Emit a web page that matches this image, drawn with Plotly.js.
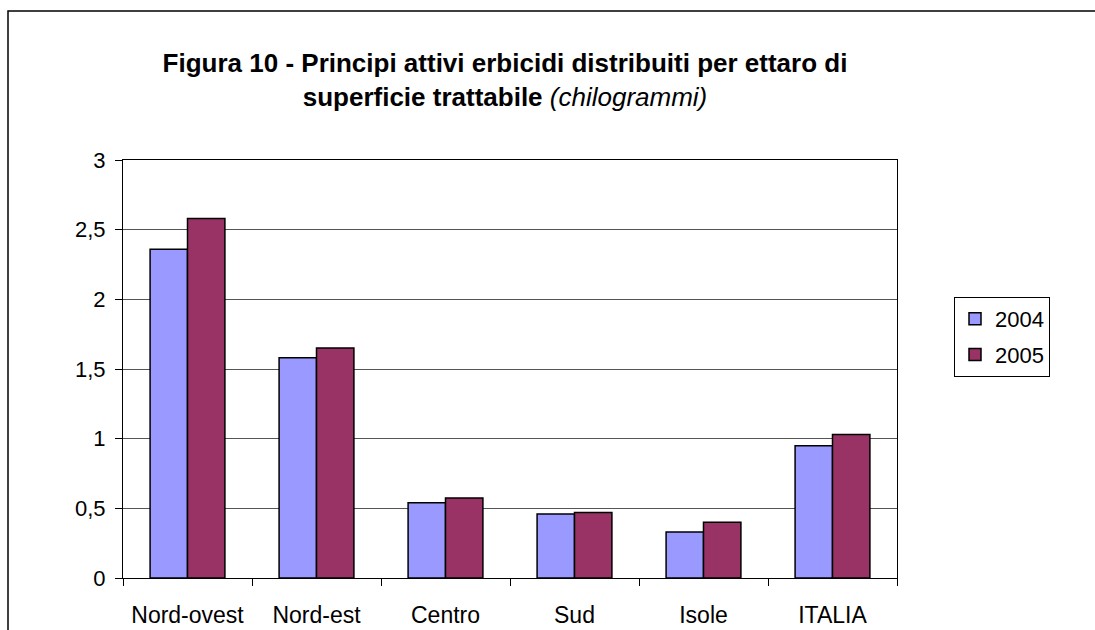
<!DOCTYPE html>
<html>
<head>
<meta charset="utf-8">
<script src="https://cdn.plot.ly/plotly-3.0.1.min.js"></script>
<style>html,body{margin:0;padding:0;background:#fff;}#chart{width:1095px;height:630px;}</style>
</head>
<body>
<div id="chart"></div>
<script>
const categories = ["Nord-ovest", "Nord-est", "Centro", "Sud", "Isole", "ITALIA"];
const values2004 = [2.36, 1.58, 0.54, 0.46, 0.33, 0.95];
const values2005 = [2.58, 1.65, 0.575, 0.47, 0.40, 1.03];
const yTicks = [0, 0.5, 1, 1.5, 2, 2.5, 3];
const yTickLabels = ["0", "0,5", "1", "1,5", "2", "2,5", "3"];

const L = 123, R = 897, T = 160, B = 578, W = 1095, H = 630;
const pw = R - L, ph = B - T;
const px = v => (v - L) / pw;
const py = v => (B - v) / ph;

const traces = [
  {type: "bar", name: "2004", x: categories, y: values2004, legendgroup: "a",
   marker: {color: "#9999FF", line: {color: "#000", width: 1.5}}},
  {type: "bar", name: "2005", x: categories, y: values2005, legendgroup: "b",
   marker: {color: "#993366", line: {color: "#000", width: 1.5}}}
];

const layout = {
  width: W, height: H,
  margin: {l: L, r: W - R, t: T, b: H - B},
  paper_bgcolor: "#fff", plot_bgcolor: "#fff",
  font: {family: "Liberation Sans, Arial, sans-serif", size: 22, color: "#000"},
  separators: ",.",
  barmode: "group", bargap: 0.42, bargroupgap: 0,
  showlegend: true,
  title: {
    text: "<b>Figura 10 - Principi attivi erbicidi distribuiti per ettaro di</b><br><b>superficie trattabile</b> <i>(chilogrammi)</i>",
    font: {family: "Liberation Sans, Arial, sans-serif", size: 26, color: "#000"},
    x: px(505), xref: "paper", xanchor: "center",
    y: 1 - 72 / H, yref: "container", yanchor: "middle"
  },
  xaxis: {
    type: "category", showline: true, linecolor: "#000", linewidth: 1, mirror: true,
    ticks: "outside", tickson: "boundaries", ticklen: 7, tickcolor: "#000",
    showgrid: false, tickfont: {size: 23}, ticklabelstandoff: 16
  },
  yaxis: {
    range: [0, 3], tickvals: yTicks, ticktext: yTickLabels,
    showline: true, linecolor: "#000", linewidth: 1, mirror: true,
    ticks: "outside", ticklen: 7, tickcolor: "#000",
    showgrid: true, gridcolor: "#555", gridwidth: 1, zeroline: false,
    tickfont: {size: 22}, ticklabelstandoff: 5
  },
  legend: {
    x: px(954), y: py(297), xanchor: "left", yanchor: "top",
    bordercolor: "#000", borderwidth: 1, bgcolor: "#fff",
    font: {size: 22}, traceorder: "grouped", tracegroupgap: 4
  },
  shapes: [{
    type: "path", xref: "paper", yref: "paper",
    path: "M " + px(8) + "," + py(640) + " L " + px(8) + "," + py(11) + " L " + px(1100) + "," + py(11),
    line: {color: "#000", width: 1.5}
  }]
};

Plotly.newPlot("chart", traces, layout, {displayModeBar: false});
</script>
</body>
</html>
